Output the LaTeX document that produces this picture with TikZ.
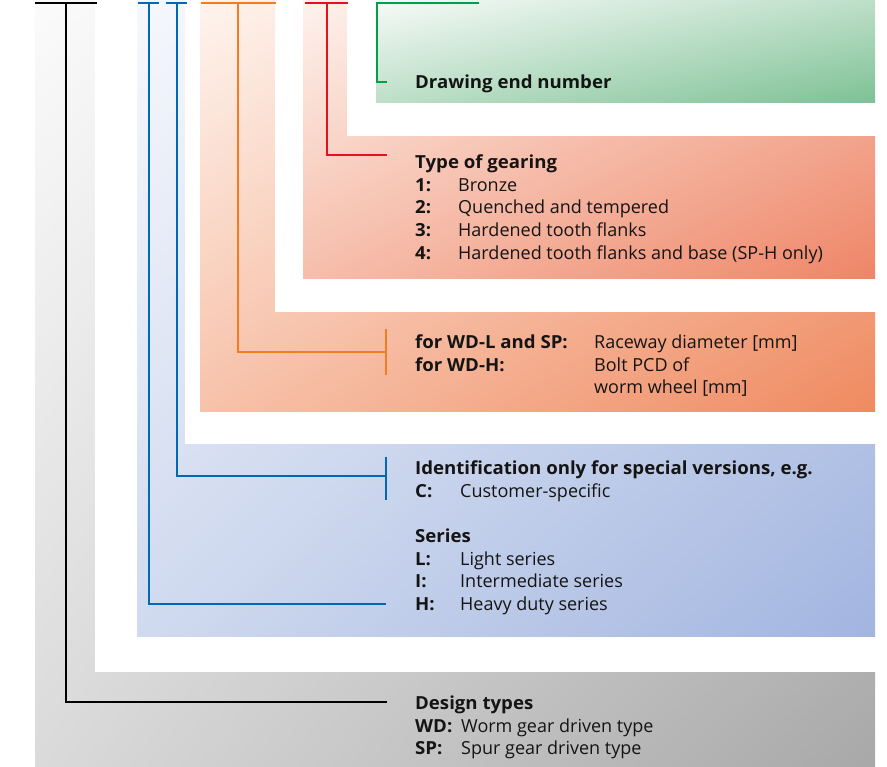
\documentclass[tikz,border=0pt]{standalone}
\usepackage{fontspec}
\usepackage{array}
\setmainfont{Open Sans}[BoldFeatures={FakeStretch=1.035}]
\usetikzlibrary{shadings}
\definecolor{cBlue}{HTML}{0069B4}
\definecolor{cOrange}{HTML}{F07D22}
\definecolor{cRed}{HTML}{E2131E}
\definecolor{cGreen}{HTML}{00A04A}
\definecolor{txtcol}{HTML}{141414}
\definecolor{grayA}{HTML}{FBFBFB}
\definecolor{grayM}{HTML}{DADADA}
\definecolor{grayB}{HTML}{A8A8A9}
\definecolor{blueA}{HTML}{F6F8FC}
\definecolor{blueM}{HTML}{D0DAEF}
\definecolor{blueB}{HTML}{A2B5E0}
\definecolor{oraA}{HTML}{FEF4EE}
\definecolor{oraM}{HTML}{F7C2AA}
\definecolor{oraB}{HTML}{EF8A60}
\definecolor{gearA}{HTML}{FDF2ED}
\definecolor{gearM}{HTML}{F6BEAB}
\definecolor{gearB}{HTML}{EE8567}
\definecolor{grnA}{HTML}{F6FAF7}
\definecolor{grnM}{HTML}{BDDFC8}
\definecolor{grnB}{HTML}{7DC195}
\tikzset{
  panel/.style n args={3}{upper left=#1, upper right=#2, lower left=#2, lower right=#3},
  conn/.style={line width=2.2pt},
  topbar/.style={line width=2.6pt},
  lbl/.style={anchor=base west, inner sep=0pt, text=txtcol,
    font=\fontsize{18}{22.7}\selectfont},
}
\begin{document}
\begin{tikzpicture}[x=1pt,y=-1pt]
\useasboundingbox (0,0) rectangle (887,767);
% panels
\shade[panel={grayA}{grayM}{grayB}] (35,0) rectangle (875,767);
\fill[white] (95,0) rectangle (876,672);
\shade[panel={blueA}{blueM}{blueB}] (137,0) rectangle (875,636);
\fill[white] (185,0) rectangle (876,444);
\shade[panel={oraA}{oraM}{oraB}] (200,0) rectangle (875,412);
\fill[white] (275,0) rectangle (876,312);
\shade[panel={gearA}{gearM}{gearB}] (303,0) rectangle (875,279);
\fill[white] (347,0) rectangle (876,136);
\shade[panel={grnA}{grnM}{grnB}] (376,0) rectangle (875,103);

% texts
\node[lbl] (drw) at (415,88.5) {\bfseries Drawing end number};
\node[lbl] (gear) at (415,168.5) {\begin{tabular}[t]{@{}>{\bfseries}p{43pt}@{}l@{}}
\multicolumn{2}{@{}l@{}}{\bfseries Type of gearing}\\
1: & Bronze\\
2: & Quenched and tempered\\
3: & Hardened tooth flanks\\
4: & Hardened tooth flanks and base (SP-H only)
\end{tabular}};
\node[lbl] (dia) at (415,348.5) {\begin{tabular}[t]{@{}>{\bfseries}p{179pt}@{}l@{}}
for WD-L and SP: & Raceway diameter [mm]\\
for WD-H: & Bolt PCD of\\
 & worm wheel [mm]
\end{tabular}};
\node[lbl] (ident) at (415,474.5) {\begin{tabular}[t]{@{}>{\bfseries}p{45pt}@{}l@{}}
\multicolumn{2}{@{}l@{}}{\bfseries Identification only for special versions, e.g.}\\
C: & Customer-specific
\end{tabular}};
\node[lbl] (series) at (415,542.5) {\begin{tabular}[t]{@{}>{\bfseries}p{45pt}@{}l@{}}
\multicolumn{2}{@{}l@{}}{\bfseries Series}\\
L: & Light series\\
I: & Intermediate series\\
H: & Heavy duty series
\end{tabular}};
\node[lbl] (design) at (415,709.5) {\begin{tabular}[t]{@{}>{\bfseries}p{46pt}@{}l@{}}
\multicolumn{2}{@{}l@{}}{\bfseries Design types}\\
WD: & Worm gear driven type\\
SP: & Spur gear driven type
\end{tabular}};

% connector coordinates
\coordinate (kL) at (35,3);   \coordinate (kR) at (97,3);
\coordinate (kT) at (66,3);   \coordinate (kE) at (387,702);
\coordinate (b1L) at (138,3); \coordinate (b1R) at (159,3);
\coordinate (b1T) at (149,3); \coordinate (b1E) at (386,604);
\coordinate (b2L) at (166,3); \coordinate (b2R) at (187,3);
\coordinate (b2T) at (177,3); \coordinate (b2E) at (386,476);
\coordinate (b2a) at (386,457); \coordinate (b2b) at (386,500);
\coordinate (oL) at (201,3);  \coordinate (oR) at (276,3);
\coordinate (oT) at (238,3);  \coordinate (oE) at (386,352);
\coordinate (oa) at (386,329); \coordinate (ob) at (386,375);
\coordinate (rL) at (305,3);  \coordinate (rR) at (348,3);
\coordinate (rT) at (327,3);  \coordinate (rE) at (387,155);
\coordinate (gR) at (479,3);  \coordinate (gB) at (377,82);
\coordinate (gE) at (387,82);

% connectors
\draw[topbar,black] (kL) -- (kR);
\draw[conn,black] (kT) |- (kE);
\draw[topbar,cBlue] (b1L) -- (b1R);
\draw[conn,cBlue] (b1T) |- (b1E);
\draw[topbar,cBlue] (b2L) -- (b2R);
\draw[conn,cBlue] (b2T) |- (b2E);
\draw[conn,cBlue] (b2a) -- (b2b);
\draw[topbar,cOrange] (oL) -- (oR);
\draw[conn,cOrange] (oT) |- (oE);
\draw[conn,cOrange] (oa) -- (ob);
\draw[topbar,cRed] (rL) -- (rR);
\draw[conn,cRed] (rT) |- (rE);
\draw[conn,cGreen] (gR) -| (gB) -- (gE);
\end{tikzpicture}
\end{document}
